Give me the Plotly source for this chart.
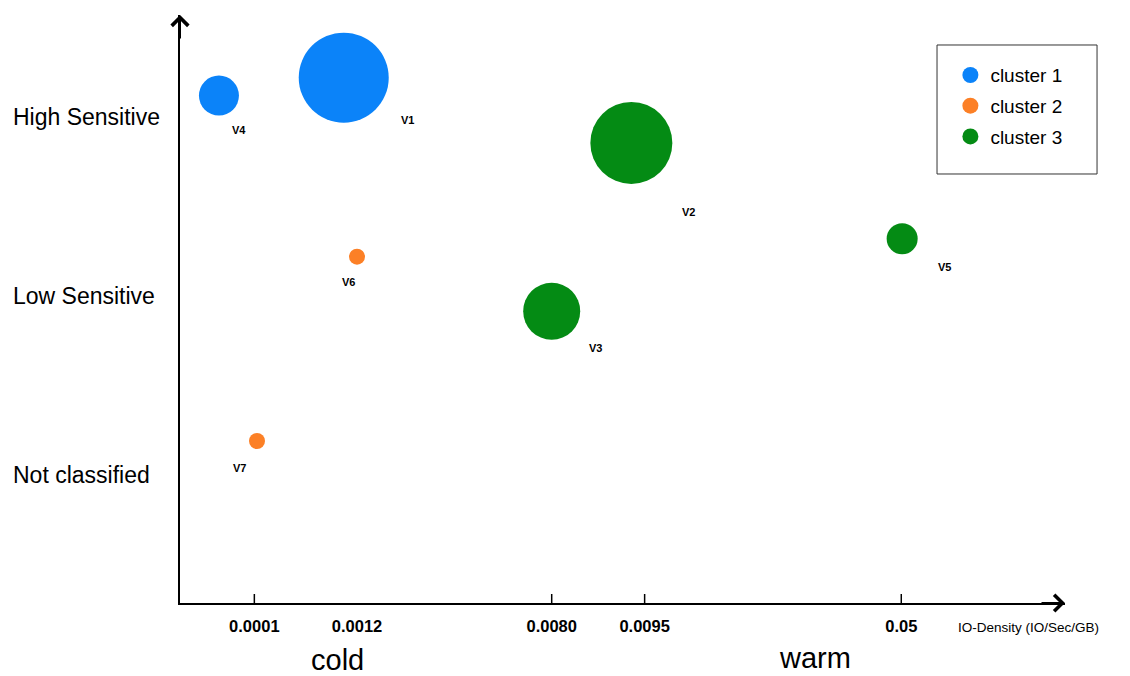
import plotly.graph_objects as go

# VM bubbles: position on the (non-linear) IO-density scale, sensitivity level, bubble size
vm_names = ["V1", "V2", "V3", "V4", "V5", "V6", "V7"]
vm_cluster = [1, 3, 3, 1, 3, 2, 2]
io_pos = [1.85, 5.10, 4.20, 0.44, 8.16, 2.00, 0.87]
sensitivity = [2.22, 1.855, 0.915, 2.12, 1.32, 1.22, 0.19]
bubble_size = [90, 82, 57, 40, 31, 16, 16]

# x axis tick positions and labels
tick_pos = [0.84, 2.00, 4.20, 5.25, 8.15]
tick_labels = ["0.0001", "0.0012", "0.0080", "0.0095", "0.05"]
tick_marked = [True, False, True, True, True]

sens_levels = [0, 1, 2]
sens_labels = ["Not classified", "Low Sensitive", "High Sensitive"]

cluster_names = {1: "cluster 1", 2: "cluster 2", 3: "cluster 3"}
cluster_colors = {1: "#0B83F9", 2: "#FC8026", 3: "#048B14"}

# label offsets (px) of the VM names relative to bubble centers
label_dx = [64, 57, 44, 20, 42, -9, -18]
label_dy = [-42, -69, -37, -34, -28, -25, -27]

FONT = "Liberation Sans, Arial, sans-serif"

fig = go.Figure()
for c in [1, 2, 3]:
    idx = [i for i, k in enumerate(vm_cluster) if k == c]
    fig.add_trace(go.Scatter(
        x=[io_pos[i] for i in idx],
        y=[sensitivity[i] for i in idx],
        mode="markers",
        name=cluster_names[c],
        legendgroup=cluster_names[c],
        text=[vm_names[i] for i in idx],
        marker=dict(size=[bubble_size[i] for i in idx], sizemode="diameter", sizeref=1,
                    color=cluster_colors[c], opacity=1, line=dict(width=0)),
        hovertemplate="%{text}<extra></extra>",
    ))

annotations = []
for i, n in enumerate(vm_names):
    annotations.append(dict(x=io_pos[i], y=sensitivity[i], xref="x", yref="y", text="<b>%s</b>" % n,
                            showarrow=False, xshift=label_dx[i], yshift=label_dy[i],
                            font=dict(size=11, color="black", family=FONT)))

for v, t in zip(sens_levels, sens_labels):
    annotations.append(dict(x=0, y=v, xref="paper", yref="y", text=t, showarrow=False,
                            xanchor="left", yanchor="middle", xshift=-169,
                            font=dict(size=23, color="black", family=FONT)))

annotations += [
    dict(x=0.1785, y=-0.097, xref="paper", yref="paper", text="cold", showarrow=False,
         xanchor="center", yanchor="middle", font=dict(size=29, color="black", family=FONT)),
    dict(x=0.7175, y=-0.094, xref="paper", yref="paper", text="warm", showarrow=False,
         xanchor="center", yanchor="middle", font=dict(size=29, color="black", family=FONT)),
    dict(x=0.877, y=-0.0425, xref="paper", yref="paper", text="IO-Density (IO/Sec/GB)", showarrow=False,
         xanchor="left", yanchor="middle", font=dict(size=13.5, color="black", family=FONT)),
    # axis arrowheads
    dict(x=1, y=0, xref="paper", yref="paper", text="", showarrow=True, ax=-25, ay=0,
         arrowhead=4, arrowsize=1.6, arrowwidth=2, arrowcolor="black"),
    dict(x=0, y=1, xref="paper", yref="paper", text="", showarrow=True, ax=0, ay=25,
         arrowhead=4, arrowsize=1.6, arrowwidth=2, arrowcolor="black"),
]

shapes = [dict(type="line", xref="x", yref="paper", x0=p, x1=p, ysizemode="pixel", yanchor=0,
               y0=0, y1=9, line=dict(color="black", width=1.5))
          for p, m in zip(tick_pos, tick_marked) if m]
# legend frame
shapes.append(dict(type="rect", xref="paper", yref="paper", x0=0.8554, x1=1.0362, y0=0.7296, y1=0.949,
                   line=dict(color="#333333", width=1), fillcolor="rgba(0,0,0,0)"))

# the page body adds an 8px offset, margins compensate for it
fig.update_layout(
    width=1130, height=676,
    margin=dict(l=172, r=73, t=7, b=81),
    paper_bgcolor="white", plot_bgcolor="white",
    font=dict(family=FONT, color="black"),
    xaxis=dict(range=[0, 10], tickvals=tick_pos, ticktext=["<b>%s</b>" % t for t in tick_labels],
               tickfont=dict(size=16.5, color="black"), ticks="", ticklabelstandoff=7,
               showgrid=False, zeroline=False, showline=True, linecolor="black", linewidth=2),
    yaxis=dict(range=[-0.715, 2.57], showticklabels=False, ticks="", showgrid=False, zeroline=False,
               showline=True, linecolor="black", linewidth=2),
    showlegend=True,
    legend=dict(x=0.8705, y=0.93, xanchor="left", yanchor="top", bgcolor="rgba(0,0,0,0)",
                font=dict(size=19, color="black", family=FONT), tracegroupgap=3, itemsizing="trace"),
    annotations=annotations,
    shapes=shapes,
)

fig.write_html("out.html")
